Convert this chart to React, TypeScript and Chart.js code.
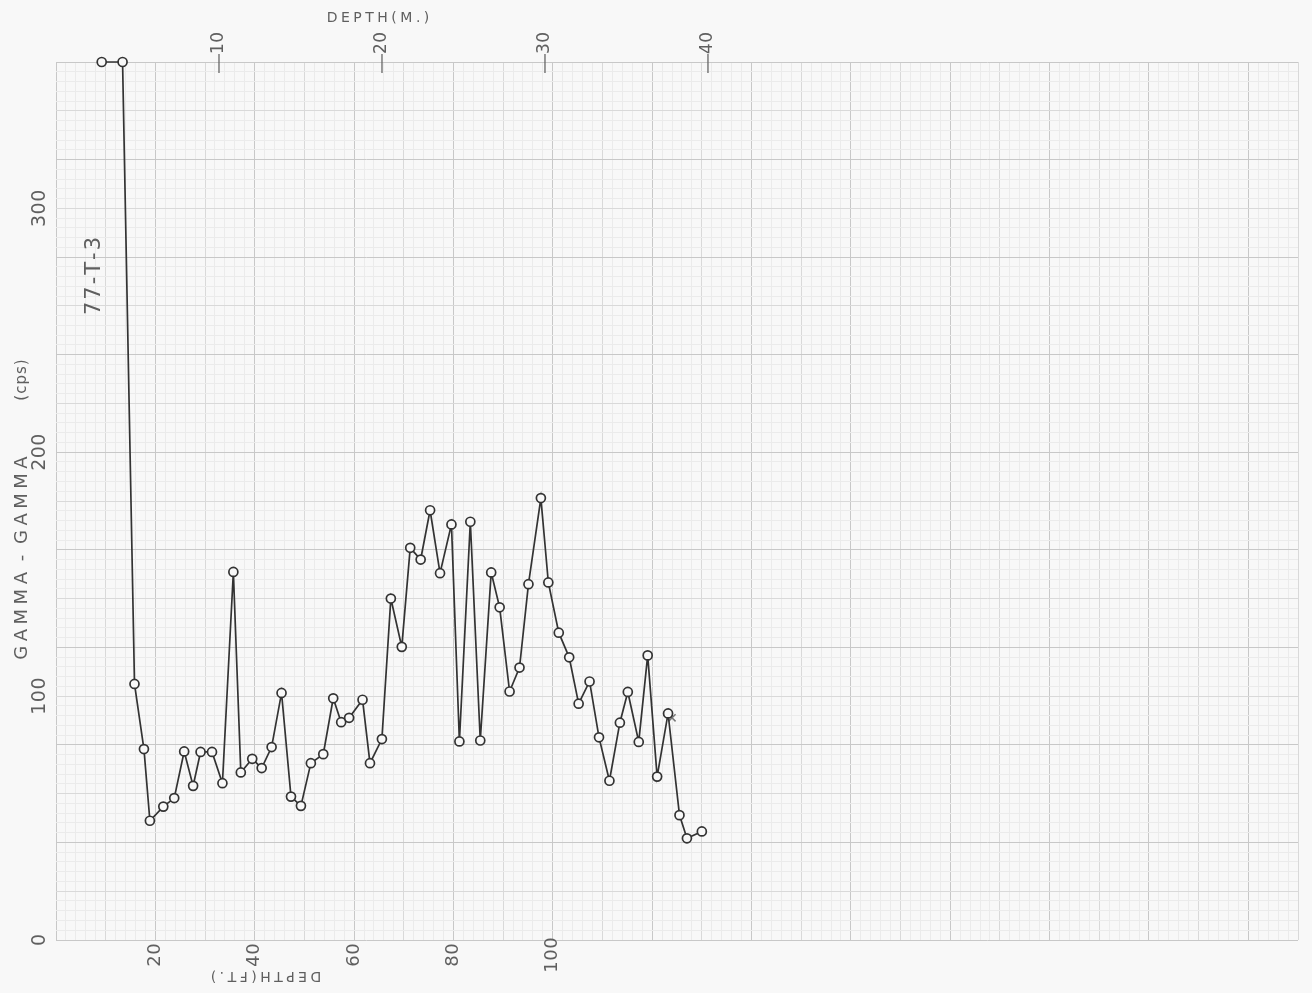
import React, { useEffect, useRef } from "react";
import { Chart, registerables } from "chart.js";

Chart.register(...registerables);

const depthFt = [
  9.2, 13.4, 15.8, 17.7, 18.9, 21.6, 23.8, 25.8, 27.6, 29.1, 31.4, 33.5, 35.7, 37.2, 39.5,
  41.4, 43.4, 45.4, 47.3, 49.3, 51.3, 53.8, 55.8, 57.4, 59.0, 61.7, 63.2, 65.6, 67.4, 69.6,
  71.3, 73.4, 75.3, 77.3, 79.6, 81.2, 83.4, 85.4, 87.6, 89.3, 91.3, 93.3, 95.1, 97.6, 99.1,
  101.2, 103.3, 105.2, 107.4, 109.3, 111.4, 113.5, 115.1, 117.3, 119.1, 121.0, 123.2, 125.5,
  127.0, 130.0,
];
const gammaCps = [
  360, 360, 105.0, 78.3, 48.9, 54.7, 58.2, 77.3, 63.2, 77.1, 77.1, 64.3, 150.9, 68.7, 74.3,
  70.5, 79.1, 101.3, 58.8, 55.0, 72.5, 76.2, 99.1, 89.3, 91.1, 98.5, 72.5, 82.4, 140.0, 120.2,
  160.8, 156.0, 176.2, 150.4, 170.4, 81.4, 171.5, 81.8, 150.7, 136.4, 101.9, 111.7, 145.9, 181.2, 146.6,
  126.0, 115.9, 96.9, 106.0, 83.1, 65.3, 89.1, 101.7, 81.2, 116.7, 67.0, 92.9, 51.2,
  41.7, 44.5,
];
// pencil cross mark beside one reading
const markFt = [124.0];
const markCps = [91.1];

const yTickLabels = [0, 100, 200, 300];
const ftTickLabels = [20, 40, 60, 80, 100];
const mTickLabels = [10, 20, 30, 40];

const FT_PER_M = 3.28084;
const TEXT = "#5f5f5f";
const FONT = "'DejaVu Sans', sans-serif";

function spaced(ctx: CanvasRenderingContext2D, text: string, x: number, y: number, sp: number) {
  const chars = Array.from(text);
  const w = chars.map((c) => (c === " " ? sp * 0.4 : ctx.measureText(c).width));
  const total = w.reduce((a, b) => a + b, 0) + sp * (chars.length - 1);
  let cx = x - total / 2;
  ctx.textAlign = "left";
  ctx.textBaseline = "middle";
  chars.forEach((c, i) => {
    if (c !== " ") ctx.fillText(c, cx, y);
    cx += w[i] + sp;
  });
}

function rotText(
  ctx: CanvasRenderingContext2D,
  text: string,
  x: number,
  y: number,
  angle: number,
  size: number,
  sp: number
) {
  ctx.save();
  ctx.translate(x, y);
  ctx.rotate(angle);
  ctx.font = `${size}px ${FONT}`;
  ctx.fillStyle = TEXT;
  spaced(ctx, text, 0, 0, sp);
  ctx.restore();
}

const paperPlugin = {
  id: "paper",
  beforeDraw(chart: any) {
    const ctx = chart.ctx;
    ctx.save();
    ctx.fillStyle = "#f8f8f8";
    ctx.fillRect(0, 0, chart.width, chart.height);
    ctx.restore();
  },
  afterDraw(chart: any) {
    const ctx: CanvasRenderingContext2D = chart.ctx;
    const xs = chart.scales.x;
    const ys = chart.scales.y;
    const top = chart.chartArea.top;
    const up = -Math.PI / 2;

    yTickLabels.forEach((v) => rotText(ctx, String(v), 40, ys.getPixelForValue(v), up, 19, 0.5));
    ftTickLabels.forEach((v) => rotText(ctx, String(v), xs.getPixelForValue(v), 955, up, 18, 0.5));
    mTickLabels.forEach((v) => {
      const px = xs.getPixelForValue(v * FT_PER_M);
      rotText(ctx, String(v), px, 43, up, 17, 0.5);
      ctx.save();
      ctx.strokeStyle = "#666";
      ctx.lineWidth = 1.3;
      ctx.beginPath();
      ctx.moveTo(px, top - 8);
      ctx.lineTo(px, top + 11);
      ctx.stroke();
      ctx.restore();
    });

    rotText(ctx, "GAMMA - GAMMA", 22, 558, up, 18, 4.5);
    rotText(ctx, "(cps)", 22, 380, up, 15, 1);
    rotText(ctx, "77-T-3", 95, 276, up, 21, 2);
    rotText(ctx, "DEPTH(M.)", 378, 18, 0, 14, 3.5);
    rotText(ctx, "DEPTH(FT.)", 266, 976, Math.PI, 14, 3.5);
  },
};

function gridColor(major: number, medium: number) {
  return (c: any) => {
    const v = Math.round(c.tick.value);
    if (v % major === 0) return "#c8c8c8";
    if (v % medium === 0) return "#d9d9d9";
    return "#ebebeb";
  };
}

export default function App() {
  const ref = useRef<HTMLCanvasElement>(null);

  useEffect(() => {
    document.body.style.margin = "0";
    const canvas = ref.current!;
    const chart = new Chart(canvas, {
      type: "line",
      data: {
        datasets: [
          {
            data: depthFt.map((d, i) => ({ x: d, y: gammaCps[i] })),
            borderColor: "#333333",
            borderWidth: 1.7,
            pointRadius: 4.5,
            pointBorderWidth: 1.7,
            pointBorderColor: "#333333",
            pointBackgroundColor: "#f8f8f8",
            tension: 0,
            clip: false as any,
          },
          {
            data: markFt.map((d, i) => ({ x: d, y: markCps[i] })),
            showLine: false,
            pointStyle: "crossRot",
            pointRadius: 5,
            pointBorderWidth: 1.5,
            pointBorderColor: "#777",
            clip: false as any,
          },
        ],
      },
      options: {
        responsive: false,
        animation: false,
        devicePixelRatio: 1,
        layout: { padding: { left: 56, right: 14, top: 62, bottom: 53 } },
        plugins: { legend: { display: false }, tooltip: { enabled: false }, title: { display: false } },
        events: [],
        scales: {
          x: {
            type: "linear",
            min: 0,
            max: 250,
            ticks: { display: false, stepSize: 2, autoSkip: false },
            grid: { color: gridColor(20, 10), lineWidth: 1, drawTicks: false },
            border: { display: false },
          },
          y: {
            type: "linear",
            min: 0,
            max: 360,
            ticks: { display: false, stepSize: 4, autoSkip: false },
            grid: { color: gridColor(40, 20), lineWidth: 1, drawTicks: false },
            border: { display: false },
          },
        },
      },
      plugins: [paperPlugin],
    });
    return () => chart.destroy();
  }, []);

  return (
    <div style={{ position: "fixed", left: 0, top: 0, width: 1312, height: 993 }}>
      <canvas ref={ref} width={1312} height={993} style={{ display: "block" }} />
    </div>
  );
}
